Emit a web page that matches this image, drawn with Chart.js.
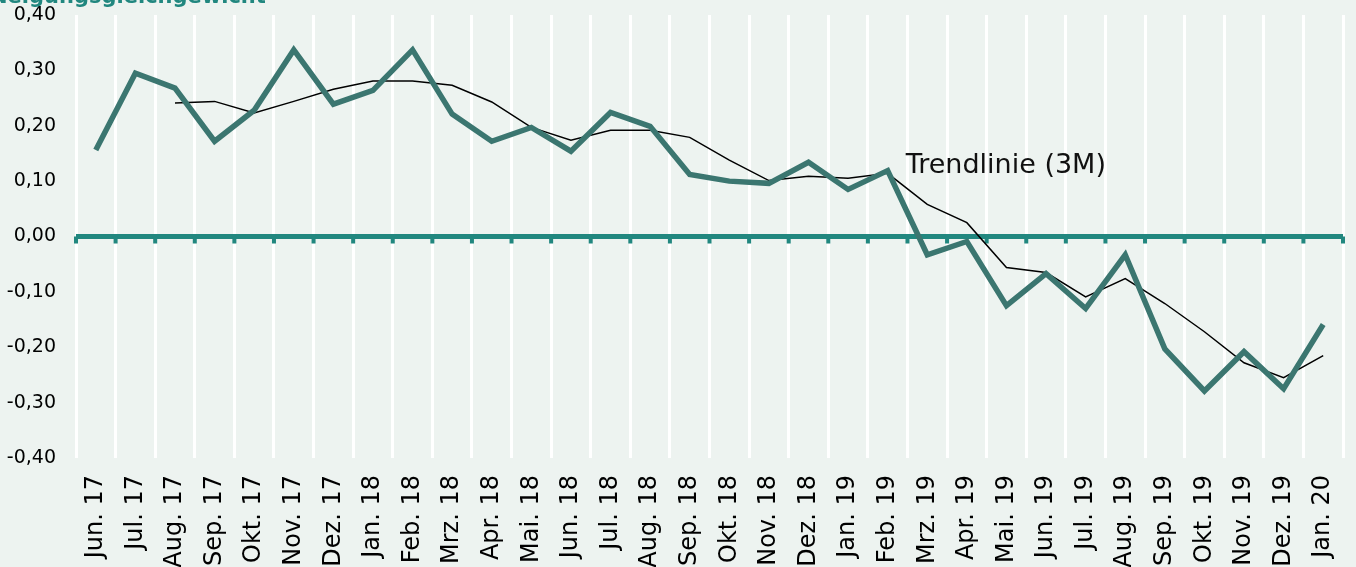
<!DOCTYPE html>
<html>
<head>
<meta charset="utf-8">
<script src="https://cdn.jsdelivr.net/npm/chart.js@4"></script>
<style>
  html, body { margin: 0; padding: 0; background: #edf3f0; }
  #wrap { width: 1356px; height: 567px; position: relative; }
</style>
</head>
<body>
<div id="wrap"><canvas id="chart"></canvas></div>
<script>
const months = ['Jun. 17', 'Jul. 17', 'Aug. 17', 'Sep. 17', 'Okt. 17', 'Nov. 17', 'Dez. 17',
  'Jan. 18', 'Feb. 18', 'Mrz. 18', 'Apr. 18', 'Mai. 18', 'Jun. 18', 'Jul. 18', 'Aug. 18',
  'Sep. 18', 'Okt. 18', 'Nov. 18', 'Dez. 18', 'Jan. 19', 'Feb. 19', 'Mrz. 19', 'Apr. 19',
  'Mai. 19', 'Jun. 19', 'Jul. 19', 'Aug. 19', 'Sep. 19', 'Okt. 19', 'Nov. 19', 'Dez. 19', 'Jan. 20'];

const indexValues = [0.156, 0.295, 0.268, 0.172, 0.228, 0.337, 0.239, 0.264, 0.337, 0.221,
  0.172, 0.197, 0.154, 0.224, 0.199, 0.112, 0.100, 0.096, 0.134, 0.085, 0.119, -0.033,
  -0.009, -0.125, -0.067, -0.130, -0.033, -0.203, -0.279, -0.208, -0.275, -0.159];

const trendValues = [null, null, 0.241, 0.244, 0.223, 0.244, 0.266, 0.281, 0.281, 0.273,
  0.243, 0.197, 0.174, 0.192, 0.192, 0.179, 0.138, 0.101, 0.109, 0.105, 0.114, 0.058,
  0.025, -0.056, -0.065, -0.109, -0.076, -0.121, -0.172, -0.228, -0.255, -0.215];

const yTicks = [-0.4, -0.3, -0.2, -0.1, 0, 0.1, 0.2, 0.3, 0.4];

const FONT = "'DejaVu Sans', sans-serif";
const teal = '#21877f';

// zero line with little tick marks + labels
const extras = {
  id: 'extras',
  beforeDatasetsDraw(chart) {
    const { ctx, chartArea, scales: { x, y } } = chart;
    const y0 = y.getPixelForValue(0);
    ctx.save();
    ctx.fillStyle = teal;
    ctx.fillRect(chartArea.left, y0 - 2.5, chartArea.right - chartArea.left, 5);
    const step = x.getPixelForValue(1) - x.getPixelForValue(0);
    for (let i = 0; i <= months.length; i++) {
      const px = x.getPixelForValue(0) - step / 2 + i * step;
      ctx.fillRect(px - 2, y0, 4, 7);
    }
    ctx.restore();
  },
  afterDraw(chart) {
    const { ctx, scales: { x, y } } = chart;
    ctx.save();
    ctx.fillStyle = '#111';
    ctx.font = '27px ' + FONT;
    ctx.textBaseline = 'middle';
    ctx.fillText('Trendlinie (3M)', x.getPixelForValue(20) + 18, y.getPixelForValue(0.127));
    ctx.fillStyle = teal;
    ctx.font = 'bold 21px ' + FONT;
    ctx.textBaseline = 'alphabetic';
    ctx.fillText('Neigungsgleichgewicht', -10, 3);
    ctx.restore();
  }
};

new Chart(document.getElementById('chart'), {
  type: 'line',
  data: {
    labels: months,
    datasets: [
      {
        label: 'Index',
        data: indexValues,
        borderColor: '#3b7670',
        borderWidth: 5.5,
        pointRadius: 0,
        tension: 0,
        borderJoinStyle: 'miter'
      },
      {
        label: 'Trendlinie (3M)',
        data: trendValues,
        borderColor: '#000',
        borderWidth: 1.5,
        pointRadius: 0,
        tension: 0
      }
    ]
  },
  options: {
    responsive: true,
    maintainAspectRatio: false,
    animation: false,
    layout: { padding: { top: 15, right: 13, left: 0, bottom: 0 } },
    plugins: {
      legend: { display: false },
      tooltip: { enabled: false }
    },
    scales: {
      x: {
        offset: true,
        grid: { offset: true, color: '#ffffff', lineWidth: 3, drawTicks: false },
        border: { display: false },
        ticks: {
          color: '#000',
          font: { family: FONT, size: 24 },
          maxRotation: 90,
          minRotation: 90,
          autoSkip: false,
          padding: 17
        },
        afterFit(scale) {
          scale.height = 109;
          scale.paddingLeft = 0;
          scale.paddingRight = 0;
        }
      },
      y: {
        min: -0.4,
        max: 0.4,
        afterBuildTicks(scale) { scale.ticks = yTicks.map(v => ({ value: v })); },
        grid: { display: false },
        border: { display: false },
        ticks: {
          color: '#000',
          font: { family: FONT, size: 19 },
          padding: 12,
          callback: v => v.toFixed(2).replace('.', ',')
        },
        afterFit(scale) {
          scale.width = 76;
          scale.paddingTop = 0;
          scale.paddingBottom = 0;
        }
      }
    }
  },
  plugins: [extras]
});
</script>
</body>
</html>
